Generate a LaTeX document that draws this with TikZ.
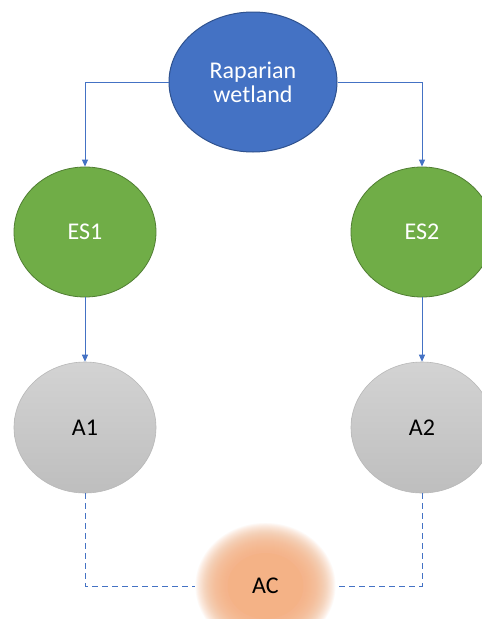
\documentclass[tikz,border=0pt]{standalone}
\usepackage{fontspec}
\setmainfont{Carlito}
\usetikzlibrary{shapes.geometric,arrows.meta}
\definecolor{wblue}{HTML}{4472C4}
\definecolor{wblueedge}{HTML}{2F528F}
\definecolor{esgreen}{HTML}{70AD47}
\definecolor{esedge}{HTML}{507E32}
\definecolor{agraytop}{HTML}{D3D3D3}
\definecolor{agraybot}{HTML}{BEBEBE}
\definecolor{aedge}{HTML}{B8B8B8}
\definecolor{acorange}{HTML}{F4B183}
\tikzset{
  blob/.style={ellipse, inner sep=0pt, font=\fontsize{24}{28}\selectfont, align=center},
  topblob/.style={blob, minimum width=168pt, minimum height=140pt,
    fill=wblue, draw=wblueedge, line width=1pt, text=white},
  esblob/.style={blob, minimum width=142pt, minimum height=130pt,
    fill=esgreen, draw=esedge, line width=0.8pt, text=white},
  ablob/.style={blob, minimum width=142pt, minimum height=131pt,
    top color=agraytop, bottom color=agraybot, draw=aedge, line width=0.6pt, text=black},
  acblob/.style={blob, minimum width=141pt, minimum height=120pt, text=black},
  link/.style={draw=wblue, line width=0.9pt, -{Triangle[length=7pt,width=6pt]}},
  dlink/.style={draw=wblue, line width=0.9pt, dash pattern=on 6pt off 4pt},
}
\begin{document}
\begin{tikzpicture}[x=1pt,y=-1pt]
  \useasboundingbox (0,0) rectangle (482,619);
  \clip (0,0) rectangle (482,619);
  \fill[white] (0,0) rectangle (482,619);

  % soft glow behind the AC label: stacked faint ellipses
  \foreach \k in {0,...,29}{
    \fill[acorange, opacity=0.07]
      (265.5,586) ellipse ({40+30*(29-\k)/29} and {35+28*(29-\k)/29});
  }
  \fill[acorange, opacity=0.6] (265.5,586) ellipse (38 and 33);

  \node[topblob] (rw) at (253,82) {Raparian\\[-4pt]wetland};
  \node[esblob] (es1) at (85,232) {ES1};
  \node[esblob] (es2) at (422,232) {ES2};
  \node[ablob] (a1) at (85,427.5) {A1};
  \node[ablob] (a2) at (422,427.5) {A2};
  \node[acblob] (ac) at (265.5,586) {AC};

  \draw[link] (rw.west) -| (es1.north);
  \draw[link] (rw.east) -| (es2.north);
  \draw[link] (es1.south) -- (a1.north);
  \draw[link] (es2.south) -- (a2.north);
  \draw[dlink] (a1.south) |- (ac.west);
  \draw[dlink] (a2.south) |- (ac.east);
\end{tikzpicture}
\end{document}
